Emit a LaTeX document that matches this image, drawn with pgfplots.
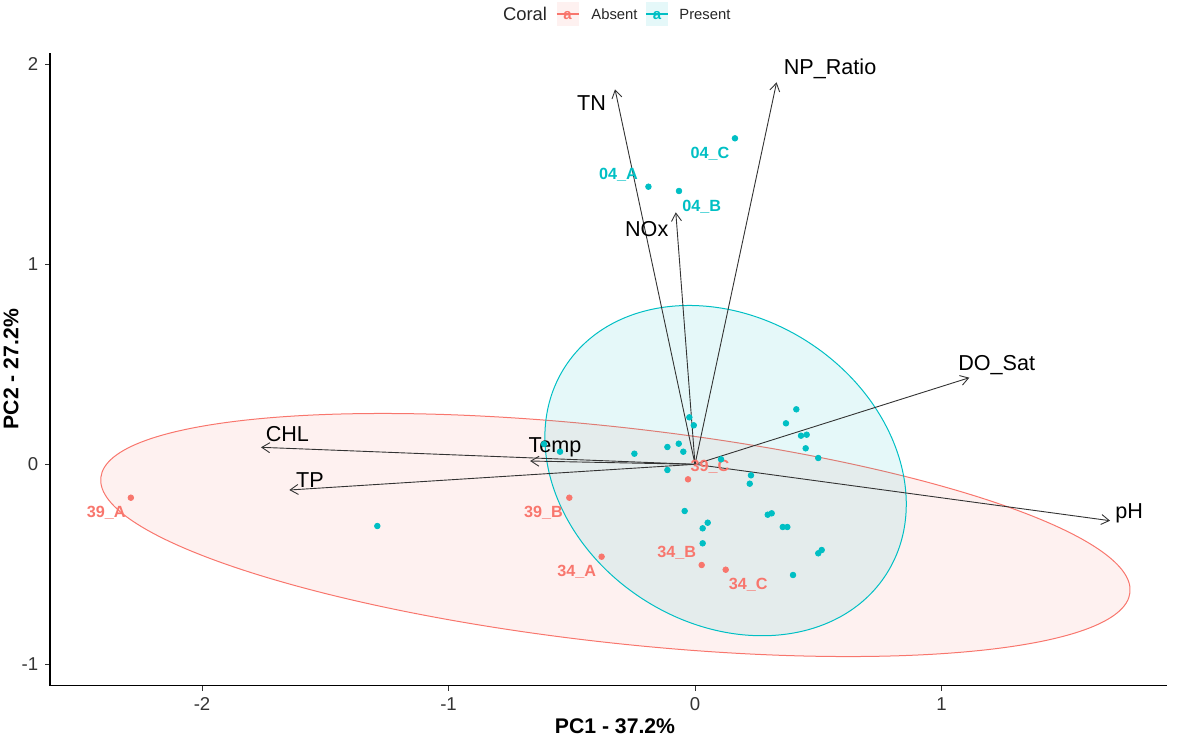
\documentclass[border=0pt]{standalone}
\usepackage{pgfplots}
\pgfplotsset{compat=1.18}
\usepackage{fontspec}
\setmainfont{Liberation Sans}
\usetikzlibrary{arrows.meta}

\definecolor{absentc}{HTML}{F8766D}
\definecolor{presentc}{HTML}{00BFC4}

% PCA individuals (PC1, PC2)
\pgfplotstableread{
x y
-2.289 -0.167
-0.510 -0.167
-0.379 -0.462
0.027 -0.5035
0.1245 -0.527
-0.0284 -0.075
}\absent

\pgfplotstableread{
x y
0.162 1.630
-0.189 1.388
-0.065 1.3665
-1.289 -0.3085
-0.6126 0.1015
-0.5477 0.063
-0.246 0.053
-0.112 0.0865
-0.066 0.103
-0.0475 0.063
-0.023 0.235
-0.005 0.195
-0.112 -0.0285
0.1055 0.025
0.227 -0.055
0.222 -0.097
-0.042 -0.2335
0.0515 -0.292
0.031 -0.320
0.031 -0.395
0.295 -0.252
0.311 -0.245
0.356 -0.3135
0.3745 -0.3135
0.500 -0.445
0.514 -0.4285
0.3976 -0.5535
0.411 0.275
0.369 0.205
0.430 0.143
0.453 0.148
0.449 0.080
0.500 0.0315
}\present

\newcommand{\varfont}{\fontsize{10.8}{12}\selectfont}
\newcommand{\indfont}{\bfseries\fontsize{8.1}{9}\selectfont}

\begin{document}
\begin{tikzpicture}[
  arr/.style={-{Straight Barb[length=4pt,width=5pt]}, line width=0.45pt, black!80},
]
\begin{axis}[
    scale only axis,
    width=558.5pt, height=316.5pt,
    xmin=-2.617, xmax=1.915,
    ymin=-1.107, ymax=2.058,
    axis x line*=bottom, axis y line*=left,
    axis line style={-, line width=0.7pt, black},
    xtick={-2,-1,0,1}, xticklabels={-2,-1,0,1},
    ytick={-1,0,1,2}, yticklabels={-1,0,1,2},
    tick align=outside,
    major tick length=2.4pt,
    tick style={line width=0.5pt, black!80},
    ticklabel style={font=\fontsize{9.3}{10}\selectfont, text=black!80},
    clip=false,
]
\coordinate (bl) at (rel axis cs:0,0);
\coordinate (tr) at (rel axis cs:1,1);
\coordinate (tl) at (rel axis cs:0,1);

\addplot[only marks, mark=*, mark size=1.4pt, color=absentc] table[x=x, y=y] {\absent};
\addplot[only marks, mark=*, mark size=1.4pt, color=presentc] table[x=x, y=y] {\present};

% concentration ellipses
\filldraw[draw=absentc, fill=absentc, fill opacity=0.1, line width=0.5pt,
  rotate around={-6.38:(axis cs:-0.323,-0.3535)}]
  (axis cs:-0.323,-0.3535) ellipse [x radius=258.9pt, y radius=53.85pt];
\filldraw[draw=presentc, fill=presentc, fill opacity=0.1, line width=0.5pt,
  rotate around={-33:(axis cs:0.124,-0.0315)}]
  (axis cs:0.124,-0.0315) ellipse [x radius=95.6pt, y radius=76.4pt];

% variable arrows
\draw[arr] (axis cs:0,0) -- (axis cs:-0.3245,1.875);
\draw[arr] (axis cs:0,0) -- (axis cs:0.331,1.910);
\draw[arr] (axis cs:0,0) -- (axis cs:-0.078,1.260);
\draw[arr] (axis cs:0,0) -- (axis cs:-0.669,0.0165);
\draw[arr] (axis cs:0,0) -- (axis cs:-1.761,0.085);
\draw[arr] (axis cs:0,0) -- (axis cs:-1.646,-0.1285);
\draw[arr] (axis cs:0,0) -- (axis cs:1.113,0.433);
\draw[arr] (axis cs:0,0) -- (axis cs:1.684,-0.282);

\node[font=\varfont] at (axis cs:-0.4195,1.805) {TN};
\node[font=\varfont] at (axis cs:0.548,1.9765) {NP\_Ratio};
\node[font=\varfont] at (axis cs:-0.196,1.1765) {NOx};
\node[font=\varfont] at (axis cs:-0.568,0.085) {Temp};
\node[font=\varfont] at (axis cs:-1.654,0.1515) {CHL};
\node[font=\varfont] at (axis cs:-1.562,-0.0785) {TP};
\node[font=\varfont] at (axis cs:1.224,0.4965) {DO\_Sat};
\node[font=\varfont] at (axis cs:1.761,-0.245) {pH};

% individual labels
\node[font=\indfont, text=presentc] at (axis cs:-0.311,1.4465) {04\_A};
\node[font=\indfont, text=presentc] at (axis cs:0.027,1.288) {04\_B};
\node[font=\indfont, text=presentc] at (axis cs:0.061,1.5515) {04\_C};
\node[font=\indfont, text=absentc] at (axis cs:-2.389,-0.242) {39\_A};
\node[font=\indfont, text=absentc] at (axis cs:-0.615,-0.242) {39\_B};
\node[font=\indfont, text=absentc] at (axis cs:0.061,-0.015) {39\_C};
\node[font=\indfont, text=absentc] at (axis cs:-0.480,-0.537) {34\_A};
\node[font=\indfont, text=absentc] at (axis cs:-0.074,-0.442) {34\_B};
\node[font=\indfont, text=absentc] at (axis cs:0.216,-0.6035) {34\_C};
\end{axis}

% axis titles
\node[font=\bfseries\fontsize{10.6}{12}\selectfont, inner sep=0pt] at ([shift={(282.5pt,-20.2pt)}]bl) {PC1 - 37.2\%};
\node[font=\bfseries\fontsize{10.6}{12}\selectfont, rotate=90, inner sep=0pt] at ([shift={(-19.5pt,158.25pt)}]bl) {PC2 - 27.2\%};

% legend
\node[font=\fontsize{9.2}{10}\selectfont, text=black!85] at ([shift={(237.5pt,19.35pt)}]tl) {Coral};
\fill[absentc, fill opacity=0.1] ([shift={(253.25pt,13.35pt)}]tl) rectangle ([shift={(264.25pt,25.35pt)}]tl);
\draw[absentc, line width=0.6pt] ([shift={(253.25pt,19.35pt)}]tl) -- ([shift={(264.25pt,19.35pt)}]tl);
\node[text=absentc, font=\bfseries\fontsize{7.5}{7.5}\selectfont, inner sep=0pt] at ([shift={(258.75pt,18.6pt)}]tl) {a};
\node[anchor=west, inner sep=0pt, font=\fontsize{7.4}{8}\selectfont, text=black!85] at ([shift={(270.5pt,19.35pt)}]tl) {Absent};
\fill[presentc, fill opacity=0.1] ([shift={(298pt,13.35pt)}]tl) rectangle ([shift={(309pt,25.35pt)}]tl);
\draw[presentc, line width=0.6pt] ([shift={(298pt,19.35pt)}]tl) -- ([shift={(309pt,19.35pt)}]tl);
\node[text=presentc, font=\bfseries\fontsize{7.5}{7.5}\selectfont, inner sep=0pt] at ([shift={(303.5pt,18.6pt)}]tl) {a};
\node[anchor=west, inner sep=0pt, font=\fontsize{7.4}{8}\selectfont, text=black!85] at ([shift={(314.5pt,19.35pt)}]tl) {Present};

\pgfresetboundingbox
\path ([shift={(-25pt,-25.15pt)}]bl) rectangle ([shift={(7pt,26.35pt)}]tr);
\end{tikzpicture}
\end{document}
